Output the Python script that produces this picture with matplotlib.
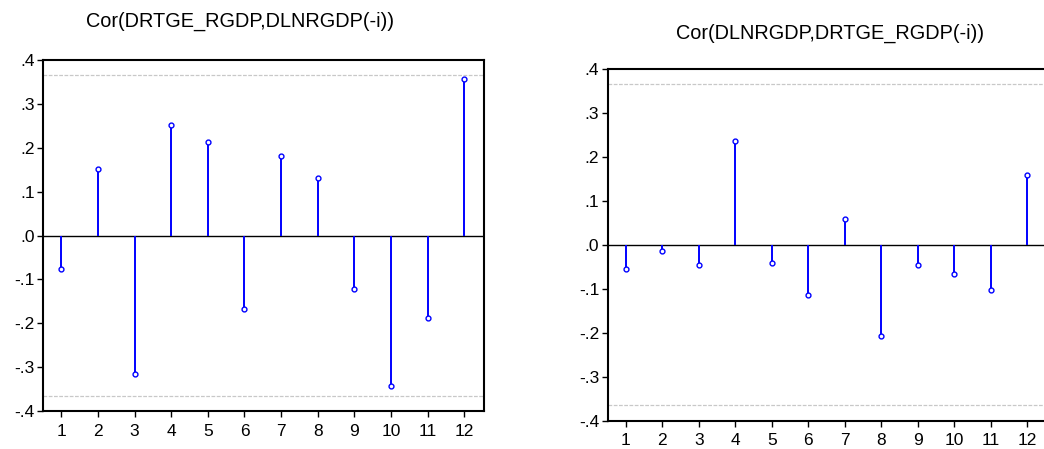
import matplotlib.pyplot as plt
from matplotlib.ticker import FuncFormatter

plt.rcParams['font.family'] = ['Liberation Sans', 'DejaVu Sans']

lags = [1, 2, 3, 4, 5, 6, 7, 8, 9, 10, 11, 12]
cor_left = [-0.077, 0.151, -0.315, 0.253, 0.214, -0.168, 0.182, 0.130, -0.123, -0.344, -0.188, 0.357]
cor_right = [-0.055, -0.014, -0.046, 0.236, -0.042, -0.113, 0.059, -0.207, -0.045, -0.067, -0.102, 0.159]
band = 0.365
title_left = 'Cor(DRTGE_RGDP,DLNRGDP(-i))'
title_right = 'Cor(DLNRGDP,DRTGE_RGDP(-i))'


def fmt(v, pos):
    s = '%.1f' % v
    s = s.replace('0.', '.')
    if s == '-.0':
        s = '.0'
    return s


def draw(ax, vals):
    ax.axhline(band, color='#c8c8c8', lw=0.9, ls=(0, (3, 1.2)), zorder=1)
    ax.axhline(-band, color='#c8c8c8', lw=0.9, ls=(0, (3, 1.2)), zorder=1)
    ax.axhline(0, color='black', lw=1.0, zorder=2)
    ax.vlines(lags, 0, vals, color='#0000ff', lw=1.4, zorder=3)
    ax.plot(lags, vals, 'o', ms=3.5, mfc='white', mec='#0000ff', mew=1.0, zorder=4)
    ax.set_xlim(0.5, 12.54)
    ax.set_ylim(-0.4, 0.4)
    ax.set_xticks(lags)
    ax.set_yticks([-0.4, -0.3, -0.2, -0.1, 0.0, 0.1, 0.2, 0.3, 0.4])
    ax.yaxis.set_major_formatter(FuncFormatter(fmt))
    ax.tick_params(direction='out', length=4, width=1, labelsize=12.5, colors='black')
    ax.tick_params(axis='y', pad=2)
    ax.tick_params(axis='x', pad=5)
    for s in ax.spines.values():
        s.set_linewidth(1.5)


fig = plt.figure(figsize=(10.44, 4.49), dpi=100)

ax1 = fig.add_axes([0.0412, 0.0846, 0.4224, 0.7817])
draw(ax1, cor_left)
fig.text(240 / 1044, 1 - 21 / 449, title_left, ha='center', va='center', fontsize=14.3)

ax2 = fig.add_axes([0.582, 0.063, 0.4208, 0.7833])
draw(ax2, cor_right)
fig.text(830 / 1044, 1 - 33 / 449, title_right, ha='center', va='center', fontsize=14.3)

fig.savefig('out.png', dpi=100)
